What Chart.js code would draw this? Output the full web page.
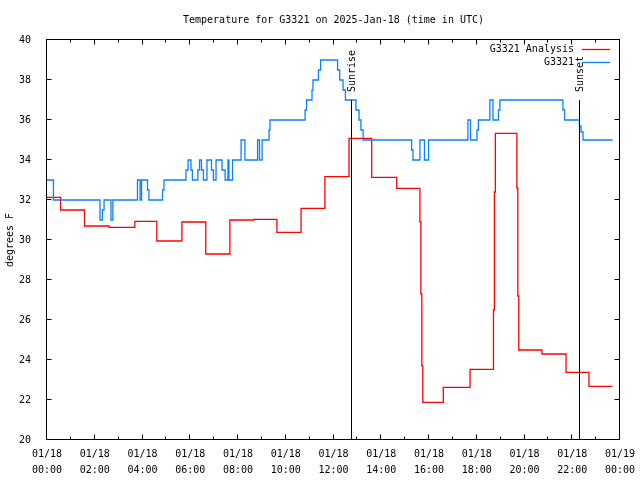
<!DOCTYPE html>
<html>
<head>
  <title>Temperature for G3321</title>
  <style>
    html, body { margin: 0; padding: 0; background: #fff; }
    #wrap { width: 640px; height: 480px; }
  </style>
</head>
<body>
  <div id="wrap"><canvas id="tempChart" width="640" height="480"></canvas></div>

  <script src="https://cdn.jsdelivr.net/npm/chart.js"></script>
  <script>
    // hours after 2025-01-18 00:00 UTC
    const anaHours = [0, 0.57, 1.57, 2.6, 3.68, 4.6, 5.65, 6.65, 7.66, 8.67, 9.63, 10.64, 11.64, 12.65, 13.6, 14.65,
      15.62, 15.66, 15.70, 15.74, 16.6, 17.72, 18.7, 18.74, 18.78, 19.68, 19.72, 19.76, 20.73, 21.74, 22.7, 23.68];
    const anaTemps = [32.13, 31.5, 30.7, 30.63, 30.93, 29.95, 30.9, 29.3, 31.0, 31.03, 30.38, 31.58, 33.17, 35.08, 33.13, 32.58,
      30.9, 27.3, 23.7, 21.88, 22.63, 23.53, 26.5, 32.4, 35.33, 32.6, 27.2, 24.5, 24.3, 23.38, 22.68, 22.68];

    const obsHours = [0, 0.27, 2.22, 2.32, 2.39, 2.68, 2.76, 3.79, 3.9, 3.96, 4.21, 4.27, 4.84, 4.9,
      5.82, 5.91, 6.03, 6.09, 6.32, 6.39, 6.47, 6.55, 6.7, 6.89, 6.97, 7.08, 7.33, 7.46, 7.58, 7.62, 7.77,
      8.13, 8.29, 8.82, 8.9, 9.01, 9.3, 9.34, 10.81, 10.87, 11.1, 11.14, 11.37, 11.46,
      12.17, 12.26, 12.4, 12.5, 12.94, 13.07, 13.15, 13.24, 15.27, 15.33, 15.62, 15.81, 15.98,
      17.63, 17.74, 18.01, 18.07, 18.55, 18.68, 18.91, 18.97, 21.61, 21.68, 22.3, 22.37, 22.45, 23.69];
    const obsTemps = [33, 32, 31, 31.5, 32, 31, 32, 33, 32, 33, 32.5, 32, 32.5, 33,
      33.5, 34, 33.5, 33, 33.5, 34, 33.5, 33, 34, 33.5, 33, 34, 33.5, 33, 34, 33, 34,
      35, 34, 35, 34, 35, 35.5, 36, 36.5, 37, 37.5, 38, 38.5, 39,
      38.5, 38, 37.5, 37, 36.5, 36, 35.5, 35, 34.5, 34, 35, 34, 35,
      36, 35, 35.5, 36, 37, 36, 36.5, 37, 36.5, 36, 35.7, 35.4, 35, 35];

    const sunEvents = ['Sunrise', 'Sunset'];
    const sunHours = [12.73, 22.3];
    const sunMarkTop = 37;

    const MONO = '"DejaVu Sans Mono", "Liberation Mono", monospace';

    const gnuplotLook = {
      id: 'gnuplotLook',
      afterDraw(chart) {
        const { ctx, chartArea: a, scales: { x, y } } = chart;
        ctx.save();
        ctx.strokeStyle = '#000';
        ctx.lineWidth = 1;
        const L = Math.round(a.left) - 0.5, R = Math.round(a.right) - 0.5;
        const T = Math.round(a.top) - 0.5, B = Math.round(a.bottom) - 0.5;
        ctx.strokeRect(L, T, R - L, B - T);

        // inward ticks, mirrored on all sides
        ctx.beginPath();
        for (let h = 0; h <= 24; h++) {
          const px = Math.round(x.getPixelForValue(h)) - 0.5;
          const len = h % 2 === 0 ? 5 : 3;
          ctx.moveTo(px, B); ctx.lineTo(px, B - len);
          ctx.moveTo(px, T); ctx.lineTo(px, T + len);
        }
        for (let v = 20; v <= 40; v += 2) {
          const py = Math.round(y.getPixelForValue(v)) - 0.5;
          ctx.moveTo(L, py); ctx.lineTo(L + 5, py);
          ctx.moveTo(R, py); ctx.lineTo(R - 5, py);
        }
        ctx.stroke();

        ctx.fillStyle = '#000';
        ctx.font = '10px ' + MONO;

        // sunrise / sunset markers
        sunEvents.forEach((name, i) => {
          const px = Math.round(x.getPixelForValue(sunHours[i])) + 0.5;
          ctx.beginPath();
          ctx.moveTo(px, y.getPixelForValue(sunMarkTop));
          ctx.lineTo(px, y.getPixelForValue(20));
          ctx.stroke();
          ctx.save();
          ctx.translate(px + 1, y.getPixelForValue(sunMarkTop) - 8);
          ctx.rotate(-Math.PI / 2);
          ctx.textAlign = 'left';
          ctx.textBaseline = 'middle';
          ctx.fillText(name, 0, 0);
          ctx.restore();
        });

        // title
        ctx.textAlign = 'center';
        ctx.textBaseline = 'middle';
        ctx.fillText('Temperature for G3321 on 2025-Jan-18 (time in UTC)', (a.left + a.right) / 2, 20);

        // y axis label
        ctx.save();
        ctx.translate(10, (a.top + a.bottom) / 2);
        ctx.rotate(-Math.PI / 2);
        ctx.fillText('degrees F', 0, 0);
        ctx.restore();

        // key
        const keyOrder = [0, 1];
        keyOrder.forEach((di, row) => {
          const ds = chart.data.datasets[di];
          const ky = 49 + row * 13;
          ctx.textAlign = 'right';
          ctx.fillStyle = '#000';
          ctx.fillText(ds.label, 574, ky);
          ctx.strokeStyle = ds.borderColor;
          ctx.lineWidth = 1.3;
          ctx.beginPath();
          ctx.moveTo(582, ky + 0.5);
          ctx.lineTo(610, ky + 0.5);
          ctx.stroke();
        });
        ctx.restore();
      }
    };

    const ctx = document.getElementById('tempChart').getContext('2d');
    new Chart(ctx, {
      type: 'line',
      data: {
        datasets: [
          {
            label: 'G3321 Analysis',
            data: anaHours.map((h, i) => ({ x: h, y: anaTemps[i] })),
            borderColor: '#ff0000',
            borderWidth: 1.3,
            stepped: true,
            pointRadius: 0,
            fill: false,
            order: 1
          },
          {
            label: 'G3321',
            data: obsHours.map((h, i) => ({ x: h, y: obsTemps[i] })),
            borderColor: '#0a80ff',
            borderWidth: 1.3,
            stepped: true,
            pointRadius: 0,
            fill: false,
            order: 0
          }
        ]
      },
      options: {
        responsive: false,
        animation: false,
        layout: { padding: { left: 0, right: 20, top: 40, bottom: 0 } },
        plugins: { legend: { display: false }, tooltip: { enabled: false } },
        scales: {
          x: {
            type: 'linear',
            min: 0,
            max: 24,
            grid: { display: false },
            border: { display: false },
            afterFit: s => { s.height = 40; },
            ticks: {
              stepSize: 2,
              autoSkip: false,
              maxRotation: 0,
              padding: -2,
              color: '#000',
              font: { family: MONO, size: 10, lineHeight: 1.6 },
              callback: v => {
                const day = v >= 24 ? '01/19' : '01/18';
                const hh = String(v % 24).padStart(2, '0');
                return [day, hh + ':00'];
              }
            }
          },
          y: {
            min: 20,
            max: 40,
            grid: { display: false },
            border: { display: false },
            afterFit: s => { s.width = 47; },
            ticks: {
              stepSize: 2,
              padding: 8,
              color: '#000',
              font: { family: MONO, size: 10 }
            }
          }
        }
      },
      plugins: [gnuplotLook]
    });
  </script>
</body>
</html>
